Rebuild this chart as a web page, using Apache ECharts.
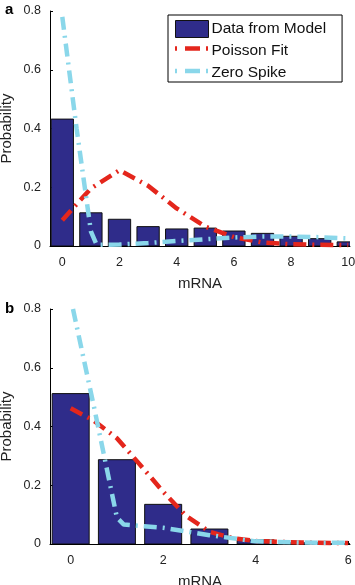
<!DOCTYPE html>
<html>
<head>
<meta charset="utf-8">
<script src="https://cdn.jsdelivr.net/npm/echarts@6/dist/echarts.min.js"></script>
<style>
  html, body { margin: 0; padding: 0; background: #fff; }
  #chart { width: 355px; height: 585px; }
</style>
</head>
<body>
<div id="chart"></div>
<script>
// panel a
const mrnaA = [0, 1, 2, 3, 4, 5, 6, 7, 8, 9, 10];
const modelA = [0.432, 0.113, 0.091, 0.066, 0.058, 0.061, 0.051, 0.043, 0.033, 0.025, 0.014];
const poissonA = [[0, 0.088], [1, 0.196], [2, 0.258], [3, 0.205], [4, 0.128], [5, 0.066], [6, 0.03], [7, 0.012], [8, 0.006], [9, 0.004], [10, 0.003]];
const spikeA = [[0, 0.78], [0.5, 0.4], [1, 0.05], [1.2, 0.004], [2, 0.005], [3, 0.01], [4, 0.017], [5, 0.023], [6, 0.029], [7, 0.032], [8, 0.032], [9, 0.03], [10, 0.026]];

// panel b
const mrnaB = [0, 1, 2, 3, 4, 5, 6];
const modelB = [0.512, 0.287, 0.135, 0.051, 0.014, 0.004, 0.001];
const poissonB = [[0, 0.462], [0.5, 0.42], [1, 0.36], [1.5, 0.27], [2, 0.178], [2.5, 0.095], [3, 0.042], [3.5, 0.02], [4, 0.01], [5, 0.005], [6, 0.003]];
const spikeB = [[0.05, 0.8], [0.5, 0.47], [1, 0.09], [1.15, 0.066], [2, 0.055], [3, 0.03], [4, 0.009], [5, 0.005], [6, 0.004]];

const yTicks = [0, 0.2, 0.4, 0.6, 0.8];
const xTicksA = [0, 2, 4, 6, 8, 10];
const xTicksB = [0, 2, 4, 6];

const font = 'Liberation Sans, Arial, Helvetica, sans-serif';
const barColor = '#2f2c8a';
const redColor = '#e4261c';
const cyanColor = '#8ad7ea';
const dash = [13, 6, 2, 6];

const chart = echarts.init(document.getElementById('chart'));

const xAxisBase = (idx, min, max, ticks) => ({
  type: 'value',
  gridIndex: idx,
  min: min,
  max: max,
  name: 'mRNA',
  nameLocation: 'middle',
  nameGap: 30,
  nameMoveOverlap: false,
  nameTextStyle: { fontSize: 15, color: '#222', fontFamily: font },
  axisLine: { show: true, onZero: false, lineStyle: { color: '#000', width: 1 } },
  axisTick: { show: true, inside: true, length: 3, customValues: ticks, lineStyle: { color: '#000' } },
  axisLabel: { customValues: ticks, fontSize: 12.5, color: '#222', fontFamily: font, margin: 10 },
  splitLine: { show: false }
});

const yAxisBase = (idx) => ({
  type: 'value',
  gridIndex: idx,
  min: 0,
  max: 0.8,
  interval: 0.2,
  name: 'Probability',
  nameLocation: 'middle',
  nameGap: 36,
  nameMoveOverlap: false,
  nameTextStyle: { fontSize: 15, color: '#222', fontFamily: font },
  axisLine: { show: true, onZero: false, lineStyle: { color: '#000', width: 1 } },
  axisTick: { show: true, inside: true, length: 3, lineStyle: { color: '#000' } },
  axisLabel: { fontSize: 12.5, color: '#222', fontFamily: font, margin: 9,
    formatter: v => yTicks.includes(+v.toFixed(1)) ? String(+v.toFixed(1)) : '' },
  splitLine: { show: false }
});

// bars drawn through the axis scales, half width in mRNA units
const barSeries = (idx, xs, ys, halfWidth) => ({
  name: 'Data from Model',
  type: 'custom',
  xAxisIndex: idx,
  yAxisIndex: idx,
  data: xs.map((x, i) => [x, ys[i]]),
  encode: { x: 0, y: 1 },
  clip: true,
  itemStyle: { color: barColor },
  renderItem: (params, api) => {
    const x = api.value(0);
    const y = api.value(1);
    const p0 = api.coord([x - halfWidth, y]);
    const p1 = api.coord([x + halfWidth, 0]);
    return {
      type: 'rect',
      shape: { x: p0[0], y: p0[1], width: p1[0] - p0[0], height: p1[1] - p0[1] },
      style: { fill: barColor, stroke: '#111', lineWidth: 1 }
    };
  },
  z: 2
});

const lineSeries = (name, idx, data, color) => ({
  name: name,
  type: 'line',
  xAxisIndex: idx,
  yAxisIndex: idx,
  data: data,
  symbol: 'none',
  showSymbol: false,
  lineStyle: { color: color, width: 4.5, type: dash, cap: 'butt' },
  itemStyle: { color: color },
  z: 3
});

// dash-dot swatches for the legend
const legendLine = (y, color) => ({
  type: 'line',
  shape: { x1: 175, y1: y, x2: 208, y2: y },
  style: { stroke: color, lineWidth: 4.5, lineDash: [2, 8, 15, 6], lineCap: 'butt' },
  z: 100
});

const option = {
  animation: false,
  title: [
    { text: 'a', left: 0, top: -3, textStyle: { fontSize: 15, fontWeight: 'bold', color: '#000', fontFamily: font } },
    { text: 'b', left: 0, top: 296, textStyle: { fontSize: 15, fontWeight: 'bold', color: '#000', fontFamily: font } }
  ],
  legend: {
    orient: 'vertical',
    left: 168,
    top: 15,
    padding: [5, 16, 1, 7],
    itemGap: 4.5,
    itemWidth: 33,
    itemHeight: 17,
    borderColor: '#000',
    borderWidth: 1,
    backgroundColor: '#fff',
    textStyle: { fontSize: 15.5, color: '#111', fontFamily: font, lineHeight: 17, padding: [0, 0, 0, -2] },
    data: [
      { name: 'Data from Model', icon: 'rect', itemStyle: { color: barColor, borderColor: '#111', borderWidth: 1 } },
      { name: 'Poisson Fit', icon: 'rect', itemStyle: { color: 'rgba(0,0,0,0)', borderWidth: 0 } },
      { name: 'Zero Spike', icon: 'rect', itemStyle: { color: 'rgba(0,0,0,0)', borderWidth: 0 } }
    ]
  },
  graphic: [legendLine(48.5, redColor), legendLine(71, cyanColor)],
  grid: [
    { left: 50, right: 5, top: 11, bottom: 339, outerBoundsMode: 'none', containLabel: false },
    { left: 50, right: 5, top: 309, bottom: 41, outerBoundsMode: 'none', containLabel: false }
  ],
  xAxis: [
    xAxisBase(0, -0.43, 10.06, xTicksA),
    xAxisBase(1, -0.447, 6.04, xTicksB)
  ],
  yAxis: [yAxisBase(0), yAxisBase(1)],
  series: [
    barSeries(0, mrnaA, modelA, 0.39),
    lineSeries('Poisson Fit', 0, poissonA, redColor),
    lineSeries('Zero Spike', 0, spikeA, cyanColor),
    barSeries(1, mrnaB, modelB, 0.4),
    lineSeries('Poisson Fit', 1, poissonB, redColor),
    lineSeries('Zero Spike', 1, spikeB, cyanColor)
  ]
};

chart.setOption(option);
</script>
</body>
</html>
